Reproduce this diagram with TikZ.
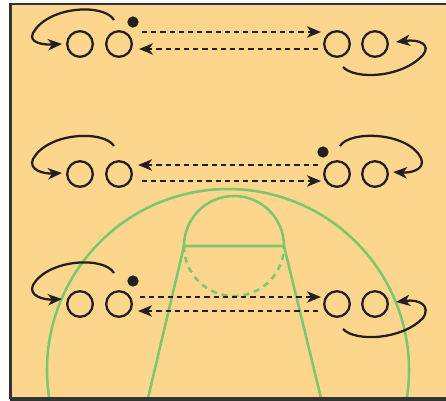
\documentclass[tikz,border=0pt]{standalone}
\usetikzlibrary{arrows.meta}
\definecolor{court}{HTML}{FDD68E}
\definecolor{lines}{HTML}{7BC86A}
\definecolor{ink}{HTML}{231F20}
\definecolor{framec}{HTML}{333333}
\tikzset{
  player/.style={circle, draw=ink, line width=1.7pt, minimum size=19.2pt, inner sep=0pt},
  ball/.style={circle, fill=ink, minimum size=8.5pt, inner sep=0pt},
  pass/.style={draw=ink, line width=1.7pt, dash pattern=on 3.9pt off 3pt, -{Stealth[length=10.5pt,width=8.5pt,inset=3pt]}},
  cut/.style={draw=ink, line width=1.7pt, -{Stealth[length=10.5pt,width=8.5pt,inset=3pt]}},
  courtline/.style={draw=lines, line width=1.9pt},
  courtdash/.style={draw=lines, line width=1.9pt, dash pattern=on 4.5pt off 3.75pt},
}
\begin{document}
\begin{tikzpicture}[x=0.75pt,y=-0.75pt]
\useasboundingbox (0,0) rectangle (446,400);
\fill[court] (10,4) rectangle (446,400);
% court markings
\draw[courtline] (49.2,398) arc[start angle=171.1, end angle=368.9, radius=181];
\draw[courtline] (148,398) -- (184,246) -- (284,246) -- (321,398);
\draw[courtline] (184,246) arc[start angle=180, end angle=360, radius=50];
\draw[courtdash] (184,246) arc[start angle=180, end angle=0, radius=50];
% frame
\draw[framec, line width=2pt] (446,4) -- (10.5,4) -- (10.5,398.5);
\draw[framec, line width=3pt] (10,398.5) -- (446,398.5);

% row 1
\node[player] (a1) at (80,44) {};
\node[player] (b1) at (119,44) {};
\node[player] (c1) at (337,44) {};
\node[player] (d1) at (375,44) {};
\node[ball] (ball1) at (133,22) {};
\coordinate (p1s) at (142,32); \coordinate (p1e) at (321,32);
\coordinate (q1s) at (318,49); \coordinate (q1e) at (139,49);
\draw[pass] (p1s) -- (p1e);
\draw[pass] (q1s) -- (q1e);
\coordinate (l1s) at (114,20); \coordinate (l1e) at (62,44);
\draw[cut] (l1s) .. controls (104,3) and (48,6) .. (33,33) .. controls (28,43) and (44,45) .. (l1e);
\coordinate (r1s) at (343,67); \coordinate (r1e) at (396,42);
\draw[cut] (r1s) .. controls (355,80) and (402,78) .. (423,55) .. controls (431,45) and (420,39) .. (r1e);

% row 2
\node[player] (a2) at (80,174) {};
\node[player] (b2) at (119,174) {};
\node[player] (c2) at (337,174) {};
\node[player] (d2) at (375,174) {};
\node[ball] (ball2) at (323,152) {};
\coordinate (p2s) at (318,165); \coordinate (p2e) at (138,165);
\coordinate (q2s) at (142,181); \coordinate (q2e) at (321,181);
\draw[pass] (p2s) -- (p2e);
\draw[pass] (q2s) -- (q2e);
\coordinate (l2s) at (114,146); \coordinate (l2e) at (62,173);
\draw[cut] (l2s) .. controls (104,130) and (48,132) .. (33,159) .. controls (28,170) and (44,174) .. (l2e);
\coordinate (r2s) at (340,146); \coordinate (r2e) at (393,172);
\draw[cut] (r2s) .. controls (350,130) and (408,132) .. (421,158) .. controls (426,170) and (410,173) .. (r2e);

% row 3
\node[player] (a3) at (80,304) {};
\node[player] (b3) at (119,304) {};
\node[player] (c3) at (337,304) {};
\node[player] (d3) at (375,304) {};
\node[ball] (ball3) at (133,281) {};
\coordinate (p3s) at (140,297); \coordinate (p3e) at (321,297);
\coordinate (q3s) at (318,311); \coordinate (q3e) at (138,311);
\draw[pass] (p3s) -- (p3e);
\draw[pass] (q3s) -- (q3e);
\coordinate (l3s) at (114,273); \coordinate (l3e) at (62,299);
\draw[cut] (l3s) .. controls (104,256) and (48,259) .. (33,285) .. controls (28,296) and (44,300) .. (l3e);
\coordinate (r3s) at (343,329); \coordinate (r3e) at (396,302);
\draw[cut] (r3s) .. controls (355,342) and (402,340) .. (423,318) .. controls (431,306) and (420,299) .. (r3e);
\end{tikzpicture}
\end{document}
